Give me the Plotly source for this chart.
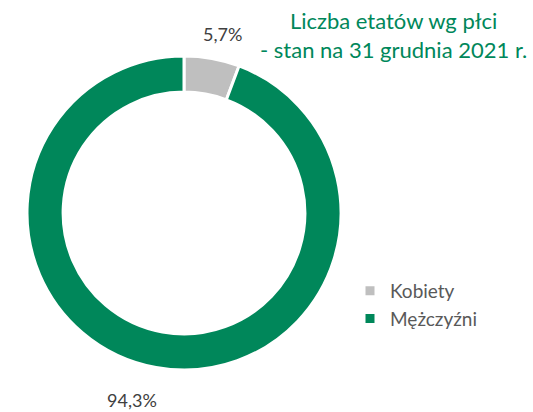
import plotly.graph_objects as go

categories = ["Kobiety", "Mężczyźni"]
values = [5.7, 94.3]
colors = ["#BFBFBF", "#00875A"]
title_lines = ["Liczba etatów wg płci", "- stan na 31 grudnia 2021 r."]

W, H = 533, 412
cx, cy, R = 184, 213, 157

fig = go.Figure(go.Pie(
    labels=categories,
    values=values,
    hole=0.77,
    sort=False,
    direction="clockwise",
    rotation=0,
    marker=dict(colors=colors, line=dict(color="white", width=3)),
    textinfo="none",
    hoverinfo="label+percent",
    domain=dict(x=[(cx - R) / W, (cx + R) / W], y=[1 - (cy + R) / H, 1 - (cy - R) / H]),
))

label_pos = [(222, 34), (132, 400)]
for v, (x, y) in zip(values, label_pos):
    fig.add_annotation(x=x / W, y=1 - y / H, xref="paper", yref="paper",
                       xanchor="center", yanchor="middle", borderpad=0,
                       text=f"{v:.1f}%".replace(".", ","), showarrow=False,
                       font=dict(size=18, color="#404040", family="Lato"))

fig.add_annotation(x=393 / W, y=1 - 35 / H, xref="paper", yref="paper",
                   xanchor="center", yanchor="middle",
                   text="<br>".join(title_lines), showarrow=False,
                   font=dict(size=22, color="#00875A", family="Lato"),
                   align="center")

fig.update_layout(
    width=W, height=H,
    margin=dict(l=0, r=0, t=0, b=0),
    paper_bgcolor="white",
    plot_bgcolor="white",
    font=dict(family="Lato"),
    showlegend=True,
    legend=dict(x=350 / W, y=1 - 272 / H, xanchor="left", yanchor="top",
                font=dict(size=19, color="#595959"),
                itemwidth=30),
)

fig.write_html("out.html", config={"displayModeBar": False},
               post_script="document.body.style.margin='0';")
